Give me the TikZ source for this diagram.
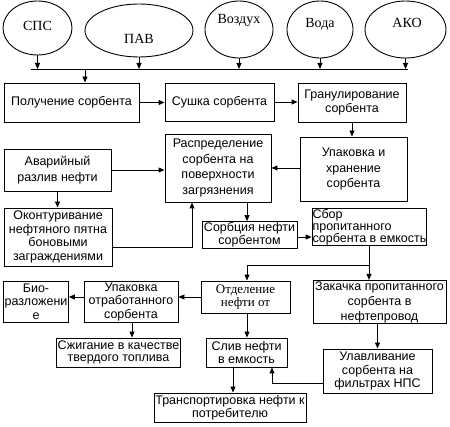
\documentclass[tikz,border=0pt]{standalone}
\usepackage{fontspec}
\usepackage{tikz}
\usetikzlibrary{arrows.meta,shapes.geometric}
\newfontfamily\boxfont{Liberation Sans}
\newfontfamily\srcfont{Liberation Serif}
\tikzset{
  srcnode/.style={ellipse,draw,line width=0.9pt,inner sep=0pt},
  srclbl/.style={font=\srcfont\fontsize{14}{15}\selectfont,inner sep=0pt},
  pbox/.style={rectangle,draw,line width=0.9pt,inner sep=1pt,align=center,
    font=\boxfont\fontsize{12.5}{13.5}\selectfont},
  wbox/.style={pbox,font=\boxfont\fontsize{12.5}{15.5}\selectfont},
  tbox/.style={pbox,font=\srcfont\fontsize{13}{13.5}\selectfont},
  pedge/.style={-{Triangle[length=6pt,width=5pt]},line width=0.9pt},
  pline/.style={line width=0.9pt},
}
\begin{document}
\begin{tikzpicture}[x=1pt,y=-1pt]
  \useasboundingbox (0,0) rectangle (450,427);
  \node[srcnode,minimum width=69,minimum height=54,label={[srclbl,yshift=2pt]center:СПС}] (sps) at (37.5,28){};
  \node[srcnode,minimum width=108,minimum height=53,label={[srclbl,yshift=-8.5pt]center:ПАВ}] (pav) at (139,30.5){};
  \node[srcnode,minimum width=68,minimum height=57,label={[srclbl,yshift=9.5pt]center:Воздух}] (vozd) at (239,29.5){};
  \node[srcnode,minimum width=66,minimum height=57,label={[srclbl,yshift=5.5pt]center:Вода}] (voda) at (320,29.5){};
  \node[srcnode,minimum width=81,minimum height=57,label={[srclbl,yshift=6.5pt,xshift=1.5pt]center:АКО}] (ako) at (405.5,29.5){};
  \coordinate (busL) at (31,69); \coordinate (busR) at (408,69); \coordinate (busA) at (85,69);
  \node[pbox,minimum width=135,minimum height=39] (polu) at (71.5,102.5){Получение сорбента};
  \node[pbox,minimum width=109,minimum height=38] (sush) at (219.5,102){Сушка сорбента};
  \node[pbox,minimum width=108,minimum height=39] (gran) at (352,102.5){Гранулирование\\сорбента};
  \node[wbox,minimum width=107,minimum height=64] (upak) at (353.5,169){Упаковка и\\хранение\\сорбента};
  \node[wbox,minimum width=106,minimum height=68] (rasp) at (218,168){Распределение\\сорбента на\\поверхности\\загрязнения};
  \node[wbox,minimum width=107,minimum height=42] (avar) at (57.5,170){Аварийный\\разлив нефти};
  \node[pbox,minimum width=108,minimum height=58] (okon) at (58,237){Оконтуривание\\нефтяного пятна\\боновыми\\заграждениями};
  \node[pbox,minimum width=95,minimum height=26,font=\boxfont\fontsize{12.5}{13}\selectfont] (sorb) at (249.5,235){Сорбция нефти\\сорбентом};
  \node[pbox,minimum width=113,minimum height=36,inner sep=0.5pt,align=left,font=\boxfont\fontsize{12.5}{12}\selectfont] (sbor) at (369.5,227){Сбор\\пропитанного\\сорбента в емкость};
  \node[tbox,minimum width=89,minimum height=32] (otde) at (245.5,297){Отделение\\нефти от};
  \node[pbox,minimum width=133,minimum height=42,font=\boxfont\fontsize{12.5}{15}\selectfont] (zaka) at (379.5,302){Закачка пропитанного\\сорбента в\\нефтепровод};
  \node[pbox,minimum width=109,minimum height=44] (ulav) at (377.5,371){Улавливание\\сорбента на\\фильтрах НПС};
  \node[pbox,minimum width=81,minimum height=29,font=\boxfont\fontsize{12.5}{13}\selectfont] (sliv) at (246.5,352.5){Слив нефти\\в емкость};
  \node[pbox,minimum width=152,minimum height=29,font=\boxfont\fontsize{12.5}{13}\selectfont] (tran) at (230,407.5){Транспортировка нефти к\\потребителю};
  \node[pbox,minimum width=94,minimum height=41] (upot) at (131,301.5){Упаковка\\отработанного\\сорбента};
  \node[pbox,minimum width=64,minimum height=41] (bio) at (36,301.5){Био-\\разложени\\е};
  \node[pbox,minimum width=115,minimum height=29,font=\boxfont\fontsize{12.5}{12.5}\selectfont] (szhi) at (118.5,352.5){Сжигание в качестве\\твердого топлива};
  \coordinate (spl) at (369,265);
  \draw[pline] (busL)--(busR);
  \draw[pedge] (sps)--(sps |- busL); \draw[pedge] (pav)--(pav |- busL);
  \draw[pedge] (vozd)--(vozd |- busL); \draw[pedge] (voda)--(voda |- busL);
  \draw[pedge] (ako)--(ako |- busL);
  \draw[pedge] (busA)--(busA |- polu.north);
  \draw[pedge] (polu.east)--(polu.east -| sush.west);
  \draw[pedge] (sush.east)--(sush.east -| gran.west);
  \draw[pedge] (gran.south)--(gran.south |- upak.north);
  \draw[pedge] ([yshift=1pt]upak.west)--([yshift=1pt]upak.west -| rasp.east);
  \draw[pedge] (avar.east)--(avar.east -| rasp.west);
  \draw[pedge] (avar.south)--(avar.south |- okon.north);
  \draw[pedge] ([yshift=-10pt]okon.east)-|([xshift=-26pt]rasp.south);
  \draw[pedge] ([xshift=29pt]rasp.south)--([xshift=29pt]rasp.south |- sorb.north);
  \draw[pedge] ([yshift=-2pt]sorb.east)--([yshift=-2pt]sorb.east -| sbor.west);
  \draw[pline] (sbor.south -| spl)--(spl);
  \draw[pedge] (spl)-|([xshift=1.5pt]otde.north);
  \draw[pedge] (spl)--(spl |- zaka.north);
  \draw[pedge] (otde.west)--(otde.west -| upot.east);
  \draw[pedge] ([yshift=4.5pt]upot.west)--([yshift=4.5pt]upot.west -| bio.east);
  \draw[pedge] ([xshift=1pt]upot.south)--([xshift=1pt]upot.south |- szhi.north);
  \draw[pedge] ([xshift=1.5pt]otde.south)--([xshift=1.5pt]otde.south |- sliv.north);
  \draw[pedge] ([xshift=-2pt]zaka.south)--([xshift=-2pt]zaka.south |- ulav.north);
  \draw[pedge] ([yshift=-12pt]ulav.west)-|([xshift=25.5pt]sliv.south);
  \draw[pedge] ([xshift=-13.5pt]sliv.south)--([xshift=-13.5pt]sliv.south |- tran.north);
\end{tikzpicture}
\end{document}
